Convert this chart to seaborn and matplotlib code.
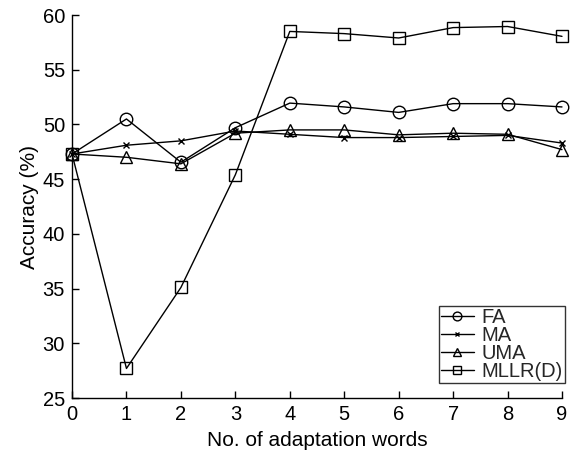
import numpy as np
import pandas as pd
import matplotlib
matplotlib.use("Agg")
import matplotlib.pyplot as plt
import seaborn as sns

# Accuracy vs. number of adaptation words
words = [0, 1, 2, 3, 4, 5, 6, 7, 8, 9]
fa = [47.3, 50.5, 46.55, 49.7, 51.95, 51.6, 51.1, 51.9, 51.9, 51.6]
ma = [47.3, 48.1, 48.5, 49.4, 49.1, 48.8, 48.8, 48.9, 49.0, 48.3]
uma = [47.3, 47.0, 46.4, 49.2, 49.5, 49.5, 49.05, 49.2, 49.1, 47.7]
mllr = [47.3, 27.7, 35.1, 45.4, 58.5, 58.3, 57.9, 58.85, 58.95, 58.05]

series_names = ["FA", "MA", "UMA", "MLLR(D)"]
series_values = [fa, ma, uma, mllr]
markers = {"FA": "o", "MA": "x", "UMA": "^", "MLLR(D)": "s"}
marker_sizes = {"FA": 9, "MA": 5, "UMA": 9, "MLLR(D)": 9}

df = pd.DataFrame(
    [(w, v, name) for name, vals in zip(series_names, series_values)
     for w, v in zip(words, vals)],
    columns=["words", "accuracy", "method"],
)

sns.set_theme(style="white")
plt.rcParams["font.family"] = ["Liberation Sans", "DejaVu Sans"]

fig = plt.figure(figsize=(5.78, 4.62), dpi=100)
ax = fig.add_axes([0.1246, 0.1385, 0.8477, 0.829])

for name in series_names:
    sub = df[df["method"] == name]
    sns.lineplot(
        data=sub, x="words", y="accuracy", ax=ax,
        color="black", linewidth=1.0, marker=markers[name],
        markersize=marker_sizes[name], markerfacecolor="none",
        markeredgecolor="black", markeredgewidth=1.0,
        label=name, clip_on=False, zorder=3,
    )

ax.set_xlim(0, 9)
ax.set_ylim(25, 60)
ax.set_xticks(words)
ax.set_yticks(np.arange(25, 61, 5))
ax.set_xlabel("No. of adaptation words", fontsize=15, color="black", labelpad=5)
ax.set_ylabel("Accuracy (%)", fontsize=15, color="black", labelpad=3)
ax.tick_params(axis="both", direction="in", length=5, width=1, colors="black",
               labelsize=14.5, bottom=True, left=True, pad=5)

for side in ["top", "right"]:
    ax.spines[side].set_visible(False)
for side in ["left", "bottom"]:
    ax.spines[side].set_color("black")
    ax.spines[side].set_linewidth(1.0)

leg = ax.legend(loc="lower right", bbox_to_anchor=(1.006, 0.039), fontsize=14.5,
                frameon=True, fancybox=False, edgecolor="black",
                handlelength=1.6, handletextpad=0.4, borderpad=0.1,
                labelspacing=-0.05, borderaxespad=0.0, markerscale=0.7)
leg.get_frame().set_linewidth(1.0)

fig.savefig("out.png", dpi=100)
